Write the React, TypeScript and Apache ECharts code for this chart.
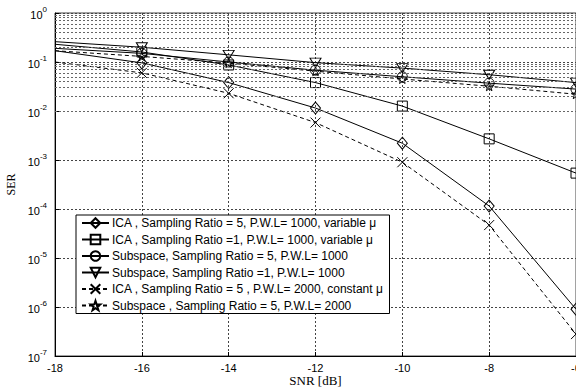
import React, { useEffect, useRef } from "react";
import * as echarts from "echarts";

const snr = [-18, -16, -14, -12, -10, -8, -6];
const icaSr5Var = [0.17, 0.096, 0.038, 0.0115, 0.0022, 1.15e-4, 9e-7];
const icaSr1Var = [0.23, 0.16, 0.087, 0.038, 0.0126, 0.0027, 5.4e-4];
const subSr5 = [0.19, 0.15, 0.1, 0.068, 0.05, 0.037, 0.028];
const subSr1 = [0.26, 0.2, 0.14, 0.097, 0.075, 0.055, 0.038];
const icaSr5Const = [0.1, 0.06, 0.023, 0.0058, 9e-4, 4.7e-5, 2.8e-7];
const subSr5P2000 = [0.17, 0.13, 0.095, 0.065, 0.045, 0.032, 0.022];

const names = [
  "ICA , Sampling Ratio = 5, P.W.L= 1000, variable μ",
  "ICA , Sampling Ratio =1, P.W.L= 1000, variable μ",
  "Subspace, Sampling Ratio = 5, P.W.L= 1000",
  "Subspace, Sampling Ratio =1, P.W.L= 1000",
  "ICA , Sampling Ratio = 5 , P.W.L= 2000, constant μ",
  "Subspace , Sampling Ratio = 5, P.W.L= 2000",
];

const minorMultipliers = [2, 3, 4, 5, 6, 7, 8, 9];
const decades = [-7, -6, -5, -4, -3, -2, -1];

const DIAMOND = "path://M5,0L10,6L5,12L0,6Z";
const XMARK = "path://M0,0L10,10M10,0L0,10";
const STAR =
  "path://M5,0L6.2,3.6L10,3.7L7,6L8.1,9.6L5,7.5L1.9,9.6L3,6L0,3.7L3.8,3.6Z";

export default function App() {
  const ref = useRef<HTMLDivElement>(null);
  useEffect(() => {
    if (!ref.current) return;
    const chart = echarts.init(ref.current, null, { renderer: "svg" });

    const mk = (
      name: string,
      vals: number[],
      symbol: string,
      size: any,
      dashed: boolean,
      rotate = 0
    ) => ({
      name,
      type: "line",
      z: 3,
      symbol,
      symbolSize: size,
      symbolRotate: rotate,
      clip: true,
      data: snr.map((x, i) =>
        i === 0 ? { value: [x, vals[i]], symbol: "none" } : [x, vals[i]]
      ),
      lineStyle: { color: "#000", width: 1, type: dashed ? [4, 3] : "solid" },
      itemStyle: { color: "transparent", borderColor: "#000", borderWidth: 1 },
    });

    const minorLines: any[] = [];
    decades.forEach((d) =>
      minorMultipliers.forEach((m) => minorLines.push({ yAxis: m * Math.pow(10, d) }))
    );

    const font = "'Liberation Sans', Arial, sans-serif";

    chart.setOption({
      animation: false,
      grid: {
        left: 55,
        top: 13,
        right: 0,
        bottom: 32,
        outerBoundsMode: "none",
        containLabel: false,
        show: true,
        borderColor: "#444",
        borderWidth: 1,
      },
      legend: {
        data: names,
        orient: "vertical",
        left: 76,
        top: 215,
        itemWidth: 27,
        itemHeight: 12,
        itemGap: 4.5,
        padding: [2, 6, 2, 5],
        backgroundColor: "#fff",
        borderColor: "#000",
        borderWidth: 1,
        borderRadius: 0,
        textStyle: { fontFamily: font, fontSize: 12, color: "#000", padding: [0, 0, 0, -2] },
      },
      xAxis: {
        type: "value",
        min: -18,
        max: -6,
        interval: 2,
        name: "SNR [dB]",
        nameLocation: "middle",
        nameGap: 18,
        nameMoveOverlap: false,
        nameTextStyle: {
          fontFamily: "'Liberation Serif', 'Times New Roman', serif",
          fontSize: 13,
          color: "#000",
          verticalAlign: "top",
        },
        axisLine: { show: true, onZero: false, lineStyle: { color: "#000" } },
        axisTick: { show: true, inside: true, length: 4, lineStyle: { color: "#000" } },
        axisLabel: { fontFamily: font, fontSize: 11, color: "#000", margin: 6 },
        splitLine: { show: true, lineStyle: { color: "#444", type: [2, 2], width: 1 } },
      },
      yAxis: {
        type: "log",
        logBase: 10,
        min: 1e-7,
        max: 1,
        name: "SER",
        nameLocation: "middle",
        nameGap: 38,
        nameMoveOverlap: false,
        nameTextStyle: { fontFamily: "'Liberation Serif', 'Times New Roman', serif", fontSize: 12, color: "#000" },
        axisLine: { show: true, lineStyle: { color: "#000" } },
        axisTick: { show: true, inside: true, length: 4, lineStyle: { color: "#000" } },
        axisLabel: {
          margin: 8,
          formatter: (v: number) => "{b|10}{s|" + Math.round(Math.log10(v)) + "}",
          rich: {
            b: { fontFamily: font, fontSize: 11, color: "#000", verticalAlign: "bottom" },
            s: { fontFamily: font, fontSize: 8, color: "#000", verticalAlign: "bottom", padding: [0, 0, 7, 0] },
          },
        },
        splitLine: { show: true, lineStyle: { color: "#444", type: [2, 2], width: 1 } },
      },
      series: [
        {
          type: "line",
          data: [],
          z: 1,
          silent: true,
          markLine: {
            silent: true,
            symbol: "none",
            label: { show: false },
            lineStyle: { color: "#666", type: [2, 2], width: 1 },
            data: minorLines,
          },
        },
        mk(names[0], icaSr5Var, DIAMOND, [10, 12], false),
        mk(names[1], icaSr1Var, "rect", 10, false),
        mk(names[2], subSr5, "circle", 10, false),
        mk(names[3], subSr1, "triangle", [11, 9], false, 180),
        mk(names[4], icaSr5Const, XMARK, 10, true),
        mk(names[5], subSr5P2000, STAR, 9, true),
      ],
    });
    return () => chart.dispose();
  }, []);
  return (
    <div
      ref={ref}
      style={{ position: "fixed", left: 0, top: 0, width: 576, height: 388, background: "#fff" }}
    />
  );
}
